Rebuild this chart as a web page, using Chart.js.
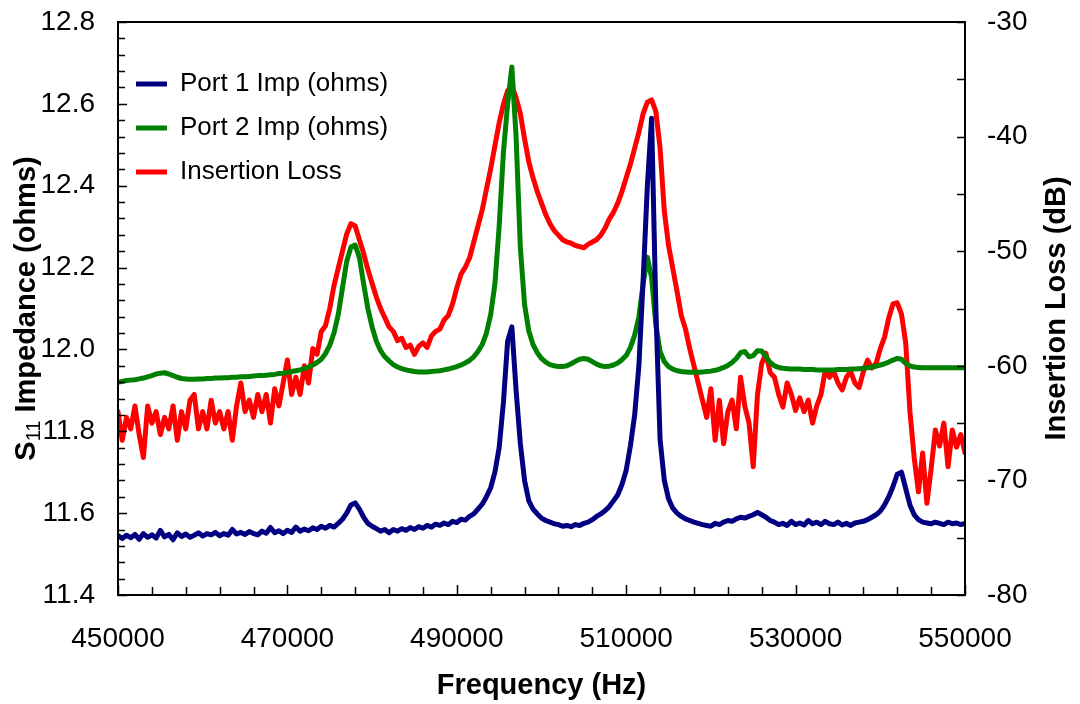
<!DOCTYPE html>
<html>
<head>
<meta charset="utf-8">
<title>S11 Impedance and Insertion Loss</title>
<script src="https://cdn.jsdelivr.net/npm/chart.js@4.4.1/dist/chart.umd.min.js"></script>
<style>
  html, body { margin: 0; padding: 0; background: #fff; }
  #wrap { width: 1080px; height: 704px; position: relative; }
</style>
</head>
<body>
<div id="wrap"><canvas id="chart"></canvas></div>
<script>
// Frequency sweep (kHz), one row = 5 kHz
const freqKHz = [
  450, 450.5, 451, 451.5, 452, 452.5, 453, 453.5, 454, 454.5,
  455, 455.5, 456, 456.5, 457, 457.5, 458, 458.5, 459, 459.5,
  460, 460.5, 461, 461.5, 462, 462.5, 463, 463.5, 464, 464.5,
  465, 465.5, 466, 466.5, 467, 467.5, 468, 468.5, 469, 469.5,
  470, 470.5, 471, 471.5, 472, 472.5, 473, 473.5, 474, 474.5,
  475, 475.5, 476, 476.5, 477, 477.5, 478, 478.5, 479, 479.5,
  480, 480.5, 481, 481.5, 482, 482.5, 483, 483.5, 484, 484.5,
  485, 485.5, 486, 486.5, 487, 487.5, 488, 488.5, 489, 489.5,
  490, 490.5, 491, 491.5, 492, 492.5, 493, 493.5, 494, 494.5,
  495, 495.5, 496, 496.5, 497, 497.5, 498, 498.5, 499, 499.5,
  500, 500.5, 501, 501.5, 502, 502.5, 503, 503.5, 504, 504.5,
  505, 505.5, 506, 506.5, 507, 507.5, 508, 508.5, 509, 509.5,
  510, 510.5, 511, 511.5, 512, 512.5, 513, 513.5, 514, 514.5,
  515, 515.5, 516, 516.5, 517, 517.5, 518, 518.5, 519, 519.5,
  520, 520.5, 521, 521.5, 522, 522.5, 523, 523.5, 524, 524.5,
  525, 525.5, 526, 526.5, 527, 527.5, 528, 528.5, 529, 529.5,
  530, 530.5, 531, 531.5, 532, 532.5, 533, 533.5, 534, 534.5,
  535, 535.5, 536, 536.5, 537, 537.5, 538, 538.5, 539, 539.5,
  540, 540.5, 541, 541.5, 542, 542.5, 543, 543.5, 544, 544.5,
  545, 545.5, 546, 546.5, 547, 547.5, 548, 548.5, 549, 549.5,
  550
];

// Port 1 impedance (ohms)
const port1Imp = [
  11.545, 11.538, 11.546, 11.540, 11.548, 11.536, 11.550, 11.541, 11.547, 11.539,
  11.558, 11.542, 11.548, 11.535, 11.552, 11.543, 11.549, 11.541, 11.546, 11.552,
  11.544, 11.550, 11.547, 11.553, 11.545, 11.550, 11.546, 11.560, 11.549, 11.553,
  11.548, 11.555, 11.550, 11.547, 11.556, 11.551, 11.565, 11.552, 11.557, 11.550,
  11.558, 11.553, 11.566, 11.556, 11.561, 11.557, 11.564, 11.560, 11.568, 11.563,
  11.570, 11.566, 11.575, 11.585, 11.600, 11.620, 11.625, 11.610, 11.590, 11.575,
  11.568, 11.562, 11.556, 11.560, 11.552, 11.560, 11.556, 11.562, 11.558, 11.565,
  11.560, 11.567, 11.563, 11.570, 11.566, 11.573, 11.570, 11.576, 11.572, 11.580,
  11.577, 11.585, 11.583, 11.592, 11.598, 11.610, 11.622, 11.640, 11.662, 11.700,
  11.760, 11.870, 12.020, 12.055, 11.900, 11.770, 11.680, 11.630, 11.610, 11.598,
  11.588, 11.582, 11.578, 11.574, 11.572, 11.568, 11.570, 11.567, 11.572, 11.570,
  11.575, 11.578, 11.584, 11.592, 11.598, 11.606, 11.616, 11.630, 11.645, 11.670,
  11.705, 11.765, 11.840, 11.960, 12.170, 12.400, 12.565, 12.100, 11.780, 11.680,
  11.635, 11.612, 11.600, 11.592, 11.586, 11.582, 11.578, 11.575, 11.572, 11.570,
  11.568, 11.575, 11.572, 11.578, 11.582, 11.580, 11.586, 11.590, 11.588, 11.592,
  11.596, 11.602, 11.596, 11.590, 11.582, 11.578, 11.572, 11.575, 11.570, 11.580,
  11.572, 11.576, 11.571, 11.582, 11.574, 11.578, 11.572, 11.580, 11.574, 11.572,
  11.578, 11.571, 11.575, 11.570, 11.576, 11.578, 11.580, 11.584, 11.590, 11.596,
  11.605, 11.620, 11.640, 11.665, 11.695, 11.700, 11.660, 11.620, 11.596, 11.584,
  11.578, 11.576, 11.574, 11.578, 11.575, 11.572, 11.578, 11.574, 11.576, 11.572,
  11.575
];

// Port 2 impedance (ohms)
const port2Imp = [
  11.920, 11.922, 11.924, 11.925, 11.926, 11.928, 11.930, 11.933, 11.936, 11.940,
  11.942, 11.943, 11.940, 11.936, 11.932, 11.929, 11.928, 11.927, 11.927, 11.928,
  11.928, 11.929, 11.929, 11.930, 11.930, 11.931, 11.931, 11.932, 11.932, 11.933,
  11.933, 11.934, 11.935, 11.936, 11.936, 11.937, 11.938, 11.939, 11.941, 11.942,
  11.944, 11.946, 11.948, 11.950, 11.953, 11.957, 11.962, 11.968, 11.976, 11.990,
  12.010, 12.040, 12.085, 12.150, 12.215, 12.250, 12.255, 12.225, 12.160, 12.100,
  12.055, 12.020, 11.997, 11.982, 11.972, 11.963, 11.957, 11.953, 11.950, 11.948,
  11.946, 11.945, 11.945, 11.945, 11.946, 11.947, 11.948, 11.950, 11.952, 11.955,
  11.958, 11.962, 11.967, 11.973, 11.982, 11.995, 12.012, 12.040, 12.085, 12.160,
  12.300, 12.480, 12.600, 12.690, 12.520, 12.250, 12.110, 12.045, 12.012, 11.992,
  11.978, 11.969, 11.963, 11.960, 11.958, 11.958, 11.960, 11.965, 11.971, 11.976,
  11.978, 11.976, 11.970, 11.964, 11.960, 11.958, 11.959, 11.962, 11.967, 11.975,
  11.985, 12.005, 12.035, 12.080, 12.160, 12.225, 12.175, 12.060, 11.995, 11.970,
  11.958, 11.952, 11.948, 11.946, 11.945, 11.944, 11.944, 11.944, 11.945, 11.946,
  11.947, 11.949, 11.952, 11.956, 11.961, 11.968, 11.978, 11.992, 11.995, 11.982,
  11.985, 11.997, 11.996, 11.982, 11.968, 11.960, 11.956, 11.954, 11.953, 11.952,
  11.952, 11.952, 11.951, 11.951, 11.951, 11.950, 11.950, 11.950, 11.950, 11.950,
  11.951, 11.951, 11.951, 11.952, 11.952, 11.953, 11.954, 11.955, 11.957, 11.959,
  11.962, 11.965, 11.969, 11.974, 11.978, 11.976, 11.966, 11.960, 11.957, 11.956,
  11.955, 11.955, 11.955, 11.955, 11.955, 11.955, 11.955, 11.955, 11.955, 11.955,
  11.955
];

// Insertion loss (dB), right axis
const insertionLoss = [
  -64.0, -66.5, -64.5, -65.5, -63.5, -66.0, -68.0, -63.5, -65.0, -64.0,
  -66.0, -64.5, -65.5, -63.5, -66.5, -64.0, -65.5, -63.0, -62.5, -65.5,
  -64.0, -65.5, -63.0, -65.0, -64.0, -65.5, -64.0, -66.5, -63.5, -61.5,
  -64.0, -63.0, -64.5, -62.5, -64.0, -62.5, -65.0, -62.0, -63.5, -61.5,
  -59.5, -62.5, -61.0, -62.5, -60.0, -61.5, -58.5, -59.0, -57.0, -56.5,
  -55.0, -53.0, -51.5, -50.0, -48.5, -47.6, -47.8, -49.0, -50.2, -51.6,
  -52.8, -54.0, -55.0, -55.8, -56.6, -57.0, -57.8, -57.6, -58.4, -58.2,
  -59.0, -58.3, -58.0, -58.4, -57.4, -57.0, -56.8, -56.0, -55.6, -54.6,
  -53.2, -52.0, -51.4, -50.6, -49.2, -47.8, -46.4, -44.6, -42.8, -40.8,
  -38.8, -37.2, -36.0, -35.6, -36.6, -38.0, -40.2, -42.2, -43.6, -44.8,
  -45.8, -46.8, -47.6, -48.2, -48.6, -49.0, -49.2, -49.3, -49.5, -49.6,
  -49.7, -49.4, -49.2, -49.0, -48.6, -48.0, -47.2, -46.6, -45.8, -44.8,
  -43.6, -42.4, -41.0, -39.6, -38.0, -37.0, -36.8, -37.8, -41.0, -46.5,
  -49.5, -51.5, -53.5, -55.6, -56.8, -58.5, -60.0, -61.5, -63.0, -64.5,
  -62.0, -66.5, -63.0, -66.8, -64.0, -63.0, -65.5, -61.0, -63.5, -65.0,
  -68.8, -62.5, -59.8, -58.9, -60.6, -61.0, -62.5, -63.6, -61.5, -62.5,
  -63.9, -62.8, -64.0, -63.0, -65.0, -63.5, -62.5, -60.4, -61.0, -60.5,
  -61.5, -62.1, -61.0, -60.5, -61.5, -61.9, -60.5, -59.5, -60.2, -59.8,
  -58.5, -57.5, -55.8, -54.6, -54.5, -55.5, -58.0, -64.0, -68.0, -71.0,
  -67.6, -72.0, -69.0, -65.6, -67.0, -65.0, -68.8, -65.6, -67.1, -66.0,
  -67.6
];

const seriesNames = ['Port 1 Imp (ohms)', 'Port 2 Imp (ohms)', 'Insertion Loss'];
const seriesColors = ['#000080', '#008000', '#ff0000'];
const xTitle = 'Frequency (Hz)';
const yTitleRight = 'Insertion Loss (dB)';

const FONT = "'Liberation Sans', Arial, sans-serif";
Chart.defaults.font.family = FONT;
Chart.defaults.color = '#000';

function toPoints(values) {
  return freqKHz.map((f, i) => ({ x: f * 1000, y: values[i] }));
}

function lineDataset(label, values, color, axis) {
  return {
    label: label,
    data: toPoints(values),
    yAxisID: axis,
    borderColor: color,
    backgroundColor: color,
    borderWidth: 5,
    borderJoinStyle: 'round',
    borderCapStyle: 'round',
    pointRadius: 0,
    tension: 0,
    fill: false
  };
}

// keep the plot box where the original sits
function fixWidth(w) {
  return s => { s.width = w; s.paddingTop = 0; s.paddingBottom = 0; };
}

// Frame + inward tick marks, drawn from the chart's own scales
const frameTicks = {
  id: 'frameTicks',
  afterDraw(chart) {
    const { ctx, chartArea: a, scales } = chart;
    ctx.save();
    ctx.strokeStyle = '#000';
    ctx.lineWidth = 2;
    ctx.strokeRect(a.left, a.top, a.right - a.left, a.bottom - a.top);

    ctx.lineWidth = 1.5;
    ctx.beginPath();
    // x: minor every 4000 Hz
    for (let i = 0; i <= 25; i++) {
      const px = Math.round(scales.x.getPixelForValue(450000 + i * 4000)) + 0.5;
      const len = i % 5 === 0 ? 10 : 8;
      ctx.moveTo(px, a.bottom);
      ctx.lineTo(px, a.bottom - len);
    }
    // left: minor every 0.04
    for (let i = 0; i <= 35; i++) {
      const py = Math.round(scales.y.getPixelForValue(11.4 + i * 0.04)) + 0.5;
      const len = i % 5 === 0 ? 9 : 7;
      ctx.moveTo(a.left, py);
      ctx.lineTo(a.left + len, py);
    }
    // right: minor every 5 dB
    for (let i = 0; i <= 10; i++) {
      const py = Math.round(scales.y1.getPixelForValue(-80 + i * 5)) + 0.5;
      ctx.moveTo(a.right, py);
      ctx.lineTo(a.right - 8, py);
    }
    ctx.stroke();
    ctx.restore();
  }
};

// Vertical axis titles (left one needs a real subscript, right one reads upward)
const axisTitles = {
  id: 'axisTitles',
  afterDraw(chart) {
    const { ctx, chartArea: a } = chart;
    const cy = (a.top + a.bottom) / 2;
    const big = 'bold 29px ' + FONT;
    const sub = '20px ' + FONT;

    ctx.save();
    ctx.fillStyle = '#000';
    ctx.textBaseline = 'middle';
    ctx.textAlign = 'left';
    ctx.translate(27, cy);
    ctx.rotate(-Math.PI / 2);
    ctx.font = big;
    const wS = ctx.measureText('S').width;
    const wRest = ctx.measureText(' Impedance (ohms)').width;
    ctx.font = sub;
    const wSub = ctx.measureText('11').width;
    const x0 = -(wS + wSub + wRest) / 2;
    ctx.font = big;
    ctx.fillText('S', x0, 0);
    ctx.font = sub;
    ctx.fillText('11', x0 + wS, 7);
    ctx.font = big;
    ctx.fillText(' Impedance (ohms)', x0 + wS + wSub, 0);
    ctx.restore();

    ctx.save();
    ctx.fillStyle = '#000';
    ctx.font = big;
    ctx.textBaseline = 'middle';
    ctx.textAlign = 'center';
    ctx.translate(1057, cy);
    ctx.rotate(-Math.PI / 2);
    ctx.fillText(yTitleRight, 0, 0);
    ctx.restore();
  }
};

const ctx = document.getElementById('chart').getContext('2d');

new Chart(ctx, {
  type: 'line',
  data: {
    datasets: [
      lineDataset(seriesNames[0], port1Imp, seriesColors[0], 'y'),
      lineDataset(seriesNames[1], port2Imp, seriesColors[1], 'y'),
      lineDataset(seriesNames[2], insertionLoss, seriesColors[2], 'y1')
    ]
  },
  options: {
    responsive: true,
    maintainAspectRatio: false,
    animation: false,
    layout: { padding: { top: 22, left: 0, right: 0, bottom: 0 } },
    plugins: {
      tooltip: { enabled: false },
      legend: {
        position: 'chartArea',
        align: 'start',
        // empty title only pushes the entries down inside the plot
        title: { display: true, text: '', font: { size: 10 }, padding: { top: 0, bottom: 41 } },
        labels: {
          usePointStyle: true,
          pointStyle: 'line',
          pointStyleWidth: 31,
          padding: 18,
          color: '#000',
          font: { size: 26 }
        }
      }
    },
    scales: {
      x: {
        type: 'linear',
        min: 450000,
        max: 550000,
        grid: { display: false, drawTicks: false },
        border: { display: false },
        ticks: {
          stepSize: 20000,
          padding: 27,
          maxRotation: 0,
          color: '#000',
          font: { size: 28 },
          callback: v => String(v)
        },
        title: {
          display: true,
          text: xTitle,
          color: '#000',
          font: { size: 29, weight: 'bold' },
          padding: { top: 0, bottom: 1 }
        },
        afterFit: s => { s.height = 109; }
      },
      y: {
        position: 'left',
        min: 11.4,
        max: 12.8,
        grid: { display: false, drawTicks: false },
        border: { display: false },
        ticks: { stepSize: 0.2, padding: 23, color: '#000', font: { size: 28 } },
        afterFit: fixWidth(118)
      },
      y1: {
        position: 'right',
        min: -80,
        max: -30,
        grid: { display: false, drawTicks: false },
        border: { display: false },
        ticks: { stepSize: 10, padding: 22, color: '#000', font: { size: 28 } },
        afterFit: fixWidth(115)
      }
    }
  },
  plugins: [frameTicks, axisTitles]
});
</script>
</body>
</html>
